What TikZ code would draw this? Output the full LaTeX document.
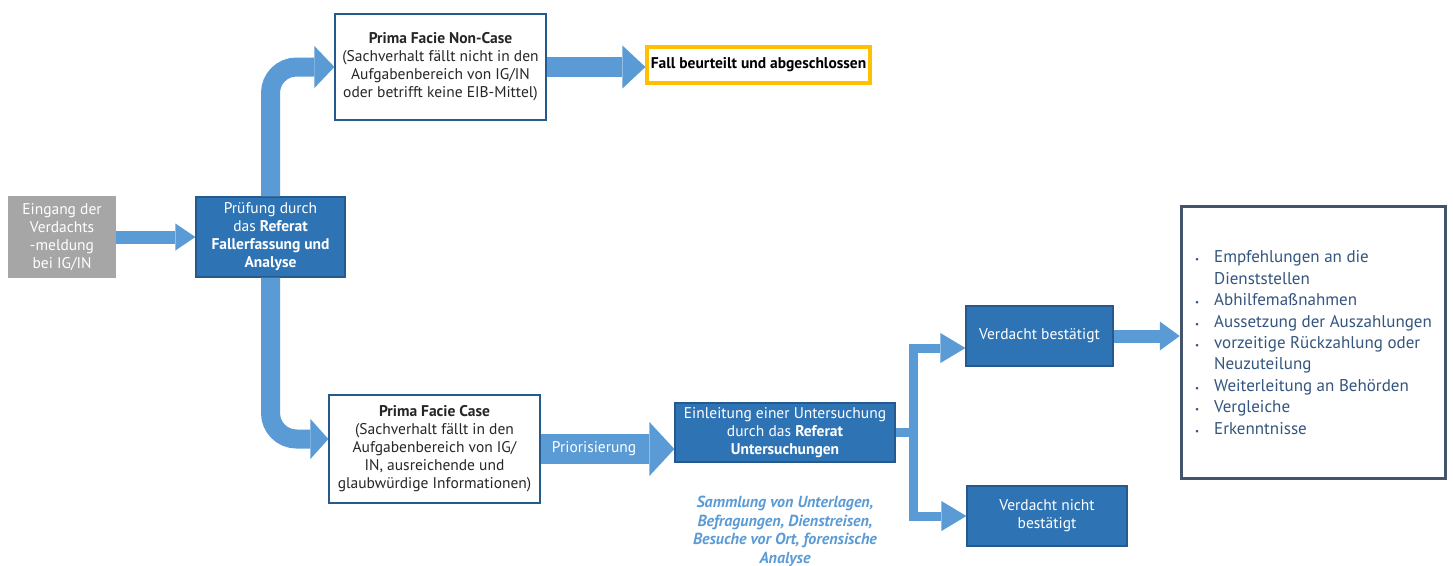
\documentclass[tikz,border=0pt]{standalone}
\usepackage{fontspec}
\setmainfont{PT Sans}
\usepackage{tikz}
\usetikzlibrary{arrows.meta,calc}

\definecolor{boxblue}{HTML}{2E74B5}
\definecolor{boxedge}{HTML}{245A8E}
\definecolor{arrowblue}{HTML}{5B9BD5}
\definecolor{arrowedge}{HTML}{4A88C4}
\definecolor{greybox}{HTML}{A6A6A6}
\definecolor{goldedge}{HTML}{FFC000}
\definecolor{slateedge}{HTML}{44546A}
\definecolor{listtext}{HTML}{34557F}

\tikzset{
  boxfont/.style={font=\fontsize{15.5}{18}\selectfont},
  darkbox/.style={boxfont, draw=boxedge, fill=boxblue, line width=1.2pt, text=white, align=center, inner sep=2pt},
  whitebox/.style={boxfont, draw=boxedge, fill=white, line width=1.2pt, text=black!85, align=center, inner sep=2pt},
  flow/.style n args={3}{draw=arrowblue, line width=#1, -{Triangle[length=#2,width=#3,line width=0pt]}}
}

\begin{document}
\begin{tikzpicture}[x=1pt,y=-1pt]
  \useasboundingbox (0,0) rectangle (1453,565);

  % Eingang and first check
  \node[boxfont, fill=greybox, text=white, align=center, minimum width=108pt, minimum height=82pt] (eingang) at (62,237) {Eingang der\\Verdachts\\-meldung\\bei IG/IN};
  \node[darkbox, minimum width=149pt, minimum height=80pt] (pruefung) at (270.5,237) {Prüfung durch\\das \textbf{Referat}\\\textbf{Fallerfassung und}\\\textbf{Analyse}};

  % upper branch
  \node[whitebox, minimum width=211pt, minimum height=106pt] (noncase) at (440.5,67) {\textbf{Prima Facie Non-Case}\\(Sachverhalt fällt nicht in den\\Aufgabenbereich von IG/IN\\oder betrifft keine EIB-Mittel)};
  \node[boxfont, draw=goldedge, line width=4pt, fill=white, text=black, minimum width=219pt, minimum height=36pt] (fall) at (758.5,65) {\textbf{Fall beurteilt und abgeschlossen}};

  % lower branch
  \node[whitebox, minimum width=211pt, minimum height=108pt] (case) at (434.5,449) {\textbf{Prima Facie Case}\\(Sachverhalt fällt in den\\Aufgabenbereich von IG/\\IN, ausreichende und\\glaubwürdige Informationen)};
  \node[darkbox, minimum width=220pt, minimum height=59pt] (einleitung) at (785,432.5) {Einleitung einer Untersuchung\\durch das \textbf{Referat}\\\textbf{Untersuchungen}};
  \node[text=arrowblue, align=center, font=\fontsize{16}{18.5}\selectfont\bfseries\itshape] (massnahmen) at (785,531.5) {Sammlung von Unterlagen,\\Befragungen, Dienstreisen,\\Besuche vor Ort, forensische\\Analyse};

  % outcomes
  \node[darkbox, minimum width=147pt, minimum height=60pt] (bestaetigt) at (1039.5,336) {Verdacht bestätigt};
  \node[darkbox, minimum width=160pt, minimum height=60pt] (nichtbest) at (1047,516) {Verdacht nicht\\bestätigt};
  \node[draw=slateedge, line width=3.5pt, fill=white, text=listtext, align=left, minimum width=264pt, minimum height=272pt, font=\fontsize{17}{21.4}\selectfont] (ergebnis) at (1313.5,342.5)
    {\makebox[19pt][l]{\small\textbullet}Empfehlungen an die\\
     \hspace*{19pt}Dienststellen\\
     \makebox[19pt][l]{\small\textbullet}Abhilfemaßnahmen\\
     \makebox[19pt][l]{\small\textbullet}Aussetzung der Auszahlungen\\
     \makebox[19pt][l]{\small\textbullet}vorzeitige Rückzahlung oder\\
     \hspace*{19pt}Neuzuteilung\\
     \makebox[19pt][l]{\small\textbullet}Weiterleitung an Behörden\\
     \makebox[19pt][l]{\small\textbullet}Vergleiche\\
     \makebox[19pt][l]{\small\textbullet}Erkenntnisse};

  % block arrows
  \draw[flow={13pt}{20pt}{27pt}] (eingang.east) -- (pruefung.west);
  \draw[flow={19pt}{20pt}{42pt}, rounded corners=26pt] (pruefung.north) |- (noncase.west);
  \draw[flow={20pt}{23pt}{43pt}] (noncase.east) -- (noncase.east -| fall.west);
  \draw[flow={19pt}{18pt}{40pt}, rounded corners=26pt] (pruefung.south) |- ($(case.west)+(0,-10)$);
  \draw[flow={30pt}{25pt}{54pt}] (case.east) -- (case.east -| einleitung.west)
    node[pos=0.4, text=white, boxfont] {Priorisierung};

  % split after the investigation
  \draw[flow={9pt}{25pt}{30pt}] (einleitung.east) -- ++(18,0) |- ($(bestaetigt.west)+(0,12)$);
  \draw[flow={9pt}{25pt}{30pt}] (einleitung.east) -- ++(18,0) |- (nichtbest.west);
  \draw[flow={13pt}{20pt}{29pt}] (bestaetigt.east) -- (bestaetigt.east -| ergebnis.west);
\end{tikzpicture}
\end{document}
